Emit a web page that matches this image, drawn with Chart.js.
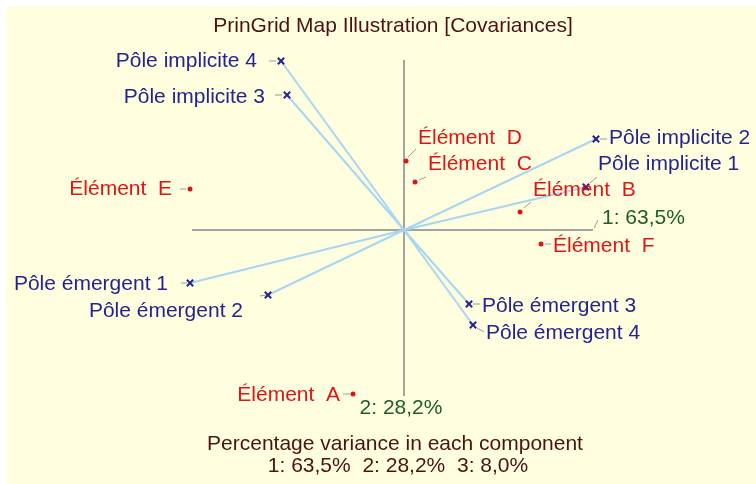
<!DOCTYPE html>
<html>
<head>
<meta charset="utf-8">
<script src="https://cdn.jsdelivr.net/npm/chart.js@4/dist/chart.umd.min.js"></script>
<style>
  body { margin: 0; background: #fff; }
  #wrap { position: absolute; left: 6px; top: 7px; width: 750px; height: 477px; background: #ffffe0; }
</style>
</head>
<body>
<div id="wrap"><canvas id="map" width="750" height="477"></canvas></div>
<script>
// component scores (component 1 = x, component 2 = y)
const implicitPoles = ["Pôle implicite 1", "Pôle implicite 2", "Pôle implicite 3", "Pôle implicite 4"];
const implicitX = [1.82, 1.92, -1.17, -1.23];
const implicitY = [0.43, 0.91, 1.35, 1.69];

const emergentPoles = ["Pôle émergent 1", "Pôle émergent 2", "Pôle émergent 3", "Pôle émergent 4"];
const emergentX = [-2.14, -1.36, 0.65, 0.69];
const emergentY = [-0.53, -0.65, -0.74, -0.95];

const elements = ["Élément  A", "Élément  B", "Élément  C", "Élément  D", "Élément  E", "Élément  F"];
const elementX = [-0.51, 1.16, 0.11, 0.02, -2.14, 1.37];
const elementY = [-1.64, 0.18, 0.48, 0.69, 0.41, -0.14];

const axis1 = [-2.12, 1.89];
const axis2 = [-1.66, 1.70];
const variance = ["63,5%", "28,2%", "8,0%"];

// label placement: [dx, dy, align, leader x1, y1, x2, y2] in px relative to the mark
const place = {
  "Pôle implicite 1": [12, -23, "left", 4, -4, 11, -10],
  "Pôle implicite 2": [13, -1, "left", 4, 0, 11, 0],
  "Pôle implicite 3": [-22, 2, "right", -12, 0, -5, 0],
  "Pôle implicite 4": [-24, 0, "right", -12, 0, -5, 0],
  "Pôle émergent 1": [-22, 1, "right", -9, 0, -3, 0],
  "Pôle émergent 2": [-25, 16, "right", -8, 1, -2, 0],
  "Pôle émergent 3": [13, 2, "left", 4, 0, 11, 0],
  "Pôle émergent 4": [13, 8, "left", 4, 3, 11, 7],
  "Élément  A": [-13, 1, "right", -10, 0, -3, 0],
  "Élément  B": [13, -22, "left", 4, -4, 11, -10],
  "Élément  C": [13, -18, "left", 4, -2, 11, -5],
  "Élément  D": [12, -23, "left", 2, -4, 10, -12],
  "Élément  E": [-18, 0, "right", -10, 0, -4, 0],
  "Élément  F": [12, 2, "left", 4, 0, 10, 0]
};

const font = "21px 'Liberation Sans', Arial, sans-serif";
const navy = "#24248e";
const red = "#e01414";
const lineBlue = "#a6d6f2";
const axisGrey = "#a3a3a3";
const textDark = "#4a1212";
const green = "#1d5e22";

const pts = (xs, ys) => xs.map((x, i) => ({ x: x, y: ys[i] }));

const datasets = [];
datasets.push({ data: pts(implicitX, implicitY), pointStyle: "crossRot", pointRadius: 4.5,
  borderColor: navy, borderWidth: 2, showLine: false, order: 0 });
datasets.push({ data: pts(emergentX, emergentY), pointStyle: "crossRot", pointRadius: 4.5,
  borderColor: navy, borderWidth: 2, showLine: false, order: 0 });
datasets.push({ data: pts(elementX, elementY), pointStyle: "circle", pointRadius: 2.5,
  backgroundColor: red, borderColor: red, borderWidth: 0, showLine: false, order: 0 });

implicitX.forEach((x, i) => {
  datasets.push({ data: [{ x: 0, y: 0 }, { x: x, y: implicitY[i] }], showLine: true,
    pointRadius: 0, borderColor: lineBlue, borderWidth: 2, order: 2 });
});
emergentX.forEach((x, i) => {
  datasets.push({ data: [{ x: 0, y: 0 }, { x: x, y: emergentY[i] }], showLine: true,
    pointRadius: 0, borderColor: lineBlue, borderWidth: 2, order: 2 });
});

datasets.push({ data: [{ x: axis1[0], y: 0 }, { x: axis1[1], y: 0 }], showLine: true,
  pointRadius: 0, borderColor: axisGrey, borderWidth: 2, order: 3 });
datasets.push({ data: [{ x: 0, y: axis2[0] }, { x: 0, y: axis2[1] }], showLine: true,
  pointRadius: 0, borderColor: axisGrey, borderWidth: 2, order: 3 });

const labelPlugin = {
  id: "labels",
  afterDatasetsDraw(chart) {
    const ctx = chart.ctx;
    const sx = chart.scales.x, sy = chart.scales.y;
    ctx.save();
    ctx.font = font;
    ctx.textBaseline = "middle";

    function label(name, x, y, color) {
      const p = place[name];
      const px = sx.getPixelForValue(x), py = sy.getPixelForValue(y);
      ctx.strokeStyle = "#9a9a9a";
      ctx.lineWidth = 1;
      ctx.beginPath();
      ctx.moveTo(px + p[3], py + p[4]);
      ctx.lineTo(px + p[5], py + p[6]);
      ctx.stroke();
      ctx.fillStyle = color;
      ctx.textAlign = p[2];
      ctx.fillText(name, px + p[0], py + p[1]);
    }
    implicitPoles.forEach((n, i) => label(n, implicitX[i], implicitY[i], navy));
    emergentPoles.forEach((n, i) => label(n, emergentX[i], emergentY[i], navy));
    elements.forEach((n, i) => label(n, elementX[i], elementY[i], red));

    // component axis labels
    const ax = sx.getPixelForValue(axis1[1]), ay = sy.getPixelForValue(0);
    ctx.strokeStyle = "#9a9a9a";
    ctx.beginPath();
    ctx.moveTo(ax + 1, ay - 2);
    ctx.lineTo(ax + 5, ay - 10);
    ctx.stroke();
    ctx.fillStyle = green;
    ctx.textAlign = "left";
    ctx.fillText("1: " + variance[0], ax + 9, ay - 12);
    const bx = sx.getPixelForValue(0), by = sy.getPixelForValue(axis2[0]);
    ctx.textAlign = "center";
    ctx.fillText("2: " + variance[1], bx - 3, by + 12);

    // title and footer
    ctx.fillStyle = textDark;
    ctx.fillText("PrinGrid Map Illustration [Covariances]", 387, 19);
    ctx.fillText("Percentage variance in each component", 389, 437);
    ctx.fillText("1: " + variance[0] + "  2: " + variance[1] + "  3: " + variance[2], 392, 459);
    ctx.restore();
  }
};

new Chart(document.getElementById("map"), {
  type: "scatter",
  data: { datasets: datasets },
  options: {
    responsive: false,
    animation: false,
    layout: { padding: 0, autoPadding: false },
    plugins: { legend: { display: false }, tooltip: { enabled: false } },
    scales: {
      x: { type: "linear", min: -3.98, max: 3.52, display: false },
      y: { type: "linear", min: -2.54, max: 2.23, display: false }
    }
  },
  plugins: [labelPlugin]
});
</script>
</body>
</html>
